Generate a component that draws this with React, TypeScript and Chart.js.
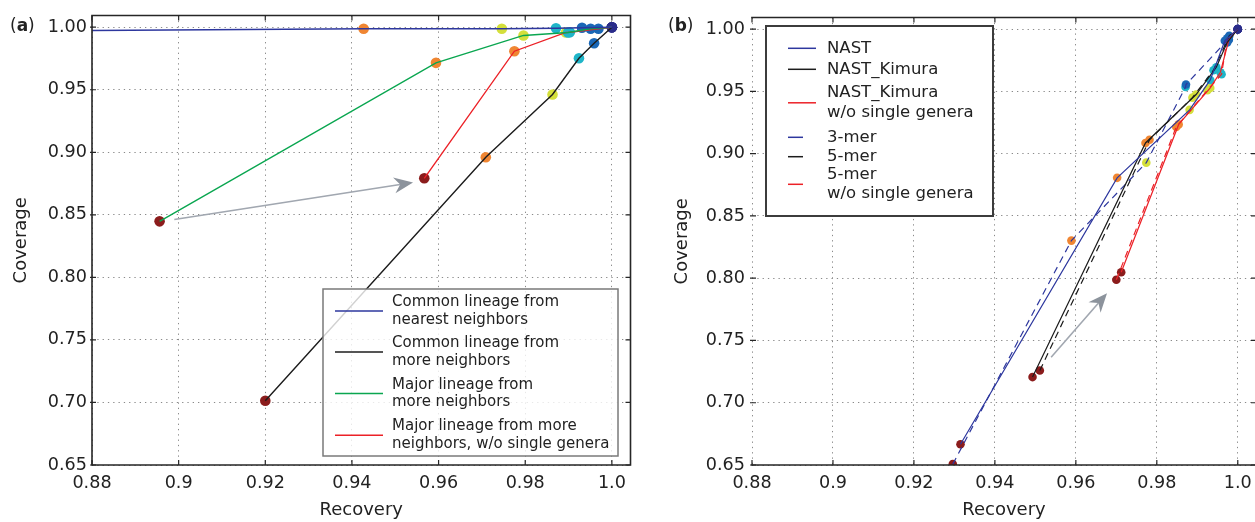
import { useEffect, useRef } from 'react';
import { Chart, registerables } from 'chart.js';

Chart.register(...registerables);

// Shared axis ticks
const recoveryTicks = [0.88, 0.9, 0.92, 0.94, 0.96, 0.98, 1.0];
const recoveryTickLabels = ['0.88', '0.9', '0.92', '0.94', '0.96', '0.98', '1.0'];
const coverageTicks = [0.65, 0.7, 0.75, 0.8, 0.85, 0.9, 0.95, 1.0];
const coverageTickLabels = ['0.65', '0.70', '0.75', '0.80', '0.85', '0.90', '0.95', '1.00'];

// Colour of each successive point along a curve
const stepColors = ['#8b1c1c', '#f08632', '#d4df3b', '#1fb5c8', '#1a67b6', '#2a2c8a'];

// Panel (a)
const nearestRecovery = [0.87, 0.9427, 0.9746, 0.9871, 0.9931, 1.0];
const nearestCoverage = [0.9971, 0.9987, 0.9987, 0.9992, 0.9995, 1.0];
const commonRecovery = [0.92, 0.9709, 0.9863, 0.9924, 0.9959, 1.0];
const commonCoverage = [0.7014, 0.896, 0.9462, 0.9752, 0.9872, 1.0];
const majorRecovery = [0.8956, 0.9594, 0.9796, 0.9899, 0.9951, 1.0];
const majorCoverage = [0.8448, 0.9715, 0.9934, 0.9958, 0.9987, 1.0];
const majorNoSingleRecovery = [0.9567, 0.9775, 0.9894, 0.9903, 0.9969, 1.0];
const majorNoSingleCoverage = [0.8792, 0.9808, 0.9958, 0.996, 0.9987, 1.0];
const legendALabels = [
  'Common lineage from\nnearest neighbors',
  'Common lineage from\nmore neighbors',
  'Major lineage from\nmore neighbors',
  'Major lineage from more\nneighbors, w/o single genera',
];
const arrowAFrom = [0.899, 0.8462];
const arrowATo = [0.9541, 0.8758];

// Panel (b)
const nastRecovery = [0.9315, 0.9702, 0.9881, 0.9932, 0.9968, 1.0];
const nastCoverage = [0.6667, 0.8806, 0.9352, 0.9592, 0.9907, 1.0];
const kimuraRecovery = [0.9493, 0.9772, 0.9897, 0.9947, 0.9974, 1.0];
const kimuraCoverage = [0.7206, 0.9086, 0.9475, 0.9694, 0.9894, 1.0];
const kimuraNoSingleRecovery = [0.9712, 0.9854, 0.9932, 0.9957, 0.9978, 1.0];
const kimuraNoSingleCoverage = [0.8048, 0.9235, 0.9528, 0.9654, 0.9915, 1.0];
const mer3Recovery = [0.9296, 0.9589, 0.9774, 0.9871, 0.9872, 1.0];
const mer3Coverage = [0.6507, 0.8302, 0.8928, 0.9535, 0.9555, 1.0];
const mer5Recovery = [0.9511, 0.9782, 0.9888, 0.994, 0.9979, 1.0];
const mer5Coverage = [0.7259, 0.9112, 0.945, 0.967, 0.9947, 1.0];
const mer5NoSingleRecovery = [0.97, 0.9848, 0.9925, 0.996, 0.9974, 1.0];
const mer5NoSingleCoverage = [0.7987, 0.9214, 0.951, 0.9638, 0.9926, 1.0];
const legendBLabels = [
  'NAST',
  'NAST_Kimura',
  'NAST_Kimura\nw/o single genera',
  '3-mer',
  '5-mer',
  '5-mer\nw/o single genera',
];
const arrowBFrom = [0.9539, 0.7366];
const arrowBTo = [0.9677, 0.788];

const FONT = "'DejaVu Sans', 'Bitstream Vera Sans', sans-serif";
const INK = '#222222';
const GRID = '#8a8a8a';
const BLUE = '#2d379e';
const BLACK = '#1c1c1c';
const GREEN = '#0aa650';
const RED = '#ec2127';
const DASH = [7, 5];

type Series = { rec: number[]; cov: number[]; color: string; dash?: number[]; width: number };

type LegendSpec = {
  x: number;
  y: number;
  w: number;
  h: number;
  rows: number[];
  lineHeight: number;
  handleX: number;
  handleLen: number;
  dashLen: number;
  textX: number;
  fontSize: number;
  fill: string;
  border: string;
  borderWidth: number;
};

type PanelSpec = {
  letter: string;
  letterX: number;
  series: Series[];
  legendLabels: string[];
  legend: LegendSpec;
  radius: number;
  xMax: number;
  yMax: number;
  axisWidth: number;
  padRight: number;
  titlePad: number;
  tickPad: number;
  leftSpine: boolean;
  arrowFrom: number[];
  arrowTo: number[];
};

const panelA: PanelSpec = {
  letter: 'a',
  letterX: 10,
  series: [
    { rec: nearestRecovery, cov: nearestCoverage, color: BLUE, width: 1.4 },
    { rec: commonRecovery, cov: commonCoverage, color: BLACK, width: 1.4 },
    { rec: majorRecovery, cov: majorCoverage, color: GREEN, width: 1.4 },
    { rec: majorNoSingleRecovery, cov: majorNoSingleCoverage, color: RED, width: 1.4 },
  ],
  legendLabels: legendALabels,
  legend: {
    x: 323, y: 289, w: 295, h: 167,
    rows: [22, 63, 104.6, 146.2],
    lineHeight: 17.5,
    handleX: 12, handleLen: 48, dashLen: 48, textX: 69,
    fontSize: 15,
    fill: 'rgba(255,255,255,0.8)', border: '#7a7a7a', borderWidth: 1.5,
  },
  radius: 5.3,
  xMax: 1.0043,
  yMax: 1.0093,
  axisWidth: 92,
  padRight: 9.5,
  titlePad: 10.9,
  tickPad: 5,
  leftSpine: true,
  arrowFrom: arrowAFrom,
  arrowTo: arrowATo,
};

const panelB: PanelSpec = {
  letter: 'b',
  letterX: 28,
  series: [
    { rec: nastRecovery, cov: nastCoverage, color: BLUE, width: 1.2 },
    { rec: kimuraRecovery, cov: kimuraCoverage, color: BLACK, width: 1.2 },
    { rec: kimuraNoSingleRecovery, cov: kimuraNoSingleCoverage, color: RED, width: 1.2 },
    { rec: mer3Recovery, cov: mer3Coverage, color: BLUE, dash: DASH, width: 1.2 },
    { rec: mer5Recovery, cov: mer5Coverage, color: BLACK, dash: DASH, width: 1.2 },
    { rec: mer5NoSingleRecovery, cov: mer5NoSingleCoverage, color: RED, dash: DASH, width: 1.2 },
  ],
  legendLabels: legendBLabels,
  legend: {
    x: 126, y: 26, w: 227, h: 190,
    rows: [22.3, 43.3, 76.8, 111.3, 130.7, 158.3],
    lineHeight: 19.7,
    handleX: 22, handleLen: 28, dashLen: 15, textX: 61,
    fontSize: 16.5,
    fill: '#ffffff', border: '#3c3c3c', borderWidth: 2,
  },
  radius: 4.3,
  xMax: 1.0045,
  yMax: 1.0093,
  axisWidth: 112,
  padRight: 24,
  titlePad: 31.9,
  tickPad: 7,
  leftSpine: false,
  arrowFrom: arrowBFrom,
  arrowTo: arrowBTo,
};

function buildDatasets(series: Series[], radius: number) {
  const dots = series.map((s) => ({
    data: s.rec.map((x, i) => ({ x, y: s.cov[i] })),
    showLine: false,
    pointRadius: radius,
    pointHoverRadius: radius,
    pointBackgroundColor: stepColors,
    pointBorderColor: 'rgba(0,0,0,0)',
    pointBorderWidth: 0,
    order: 1,
  }));
  const lines = series.map((s) => ({
    data: s.rec.map((x, i) => ({ x, y: s.cov[i] })),
    showLine: true,
    borderColor: s.color,
    borderWidth: s.width,
    borderDash: s.dash || [],
    pointRadius: 0,
    pointHoverRadius: 0,
    fill: false,
    tension: 0,
    order: 0,
  }));
  return [...dots, ...lines];
}

function drawArrow(ctx: CanvasRenderingContext2D, x0: number, y0: number, x1: number, y1: number) {
  const ang = Math.atan2(y1 - y0, x1 - x0);
  const c = Math.cos(ang);
  const s = Math.sin(ang);
  const headLen = 19;
  const headHalf = 8;
  const notch = 13;
  ctx.save();
  ctx.strokeStyle = '#a1a7b0';
  ctx.lineWidth = 1.6;
  ctx.beginPath();
  ctx.moveTo(x0, y0);
  ctx.lineTo(x1 - notch * c, y1 - notch * s);
  ctx.stroke();
  ctx.fillStyle = '#8c939c';
  ctx.beginPath();
  ctx.moveTo(x1, y1);
  ctx.lineTo(x1 - headLen * c - headHalf * s, y1 - headLen * s + headHalf * c);
  ctx.lineTo(x1 - notch * c, y1 - notch * s);
  ctx.lineTo(x1 - headLen * c + headHalf * s, y1 - headLen * s - headHalf * c);
  ctx.closePath();
  ctx.fill();
  ctx.restore();
}

function decor(spec: PanelSpec) {
  return {
    id: 'decor' + spec.letter,
    afterDatasetsDraw(chart: any) {
      const { ctx, chartArea } = chart;
      const { left, right, top, bottom } = chartArea;
      const xs = chart.scales.x;
      const ys = chart.scales.y;
      drawArrow(
        ctx,
        xs.getPixelForValue(spec.arrowFrom[0]),
        ys.getPixelForValue(spec.arrowFrom[1]),
        xs.getPixelForValue(spec.arrowTo[0]),
        ys.getPixelForValue(spec.arrowTo[1]),
      );
      ctx.save();
      ctx.strokeStyle = '#262626';
      ctx.lineWidth = 1.6;
      ctx.beginPath();
      ctx.moveTo(left - 0.8, top);
      ctx.lineTo(right, top);
      ctx.lineTo(right, bottom);
      ctx.lineTo(left - 0.8, bottom);
      if (spec.leftSpine) {
        ctx.moveTo(left, bottom);
        ctx.lineTo(left, top);
      }
      ctx.stroke();
      ctx.lineWidth = 1.2;
      ctx.beginPath();
      recoveryTicks.forEach((v) => {
        const px = xs.getPixelForValue(v);
        ctx.moveTo(px, bottom);
        ctx.lineTo(px, bottom - 5);
        ctx.moveTo(px, top);
        ctx.lineTo(px, top + 5);
      });
      coverageTicks.forEach((v) => {
        const py = ys.getPixelForValue(v);
        ctx.moveTo(left - 2, py);
        ctx.lineTo(left + 4, py);
        ctx.moveTo(right, py);
        ctx.lineTo(right - 5, py);
      });
      ctx.stroke();
      ctx.restore();
    },
    afterDraw(chart: any) {
      const { ctx } = chart;
      const lg = spec.legend;
      ctx.save();
      ctx.fillStyle = lg.fill;
      ctx.fillRect(lg.x, lg.y, lg.w, lg.h);
      ctx.strokeStyle = lg.border;
      ctx.lineWidth = lg.borderWidth;
      ctx.strokeRect(lg.x, lg.y, lg.w, lg.h);
      ctx.font = `${lg.fontSize}px ${FONT}`;
      ctx.textBaseline = 'middle';
      ctx.textAlign = 'left';
      spec.legendLabels.forEach((label, i) => {
        const s = spec.series[i];
        const cy = lg.y + lg.rows[i];
        ctx.strokeStyle = s.color;
        ctx.lineWidth = 1.5;
        ctx.beginPath();
        ctx.moveTo(lg.x + lg.handleX, cy);
        ctx.lineTo(lg.x + lg.handleX + (s.dash ? lg.dashLen : lg.handleLen), cy);
        ctx.stroke();
        ctx.fillStyle = INK;
        const rows = label.split('\n');
        rows.forEach((row, j) => {
          ctx.fillText(row, lg.x + lg.textX, cy + (j - (rows.length - 1) / 2) * lg.lineHeight);
        });
      });
      // panel letter, e.g. "(a)"
      const cy = 26.5;
      let x = spec.letterX;
      ctx.fillStyle = INK;
      ctx.font = `17px ${FONT}`;
      ctx.fillText('(', x, cy);
      x += ctx.measureText('(').width;
      ctx.font = `bold 17px ${FONT}`;
      ctx.fillText(spec.letter, x, cy);
      x += ctx.measureText(spec.letter).width;
      ctx.font = `17px ${FONT}`;
      ctx.fillText(')', x, cy);
      ctx.restore();
    },
  };
}

function makeConfig(spec: PanelSpec): any {
  const tickFont = { family: FONT, size: 17.6 };
  const titleFont = { family: FONT, size: 18 };
  return {
    type: 'scatter',
    data: { datasets: buildDatasets(spec.series, spec.radius) },
    options: {
      animation: false,
      responsive: false,
      maintainAspectRatio: false,
      events: [],
      layout: { padding: { left: 0, right: spec.padRight, top: 15, bottom: 0 } },
      plugins: { legend: { display: false }, tooltip: { enabled: false } },
      scales: {
        x: {
          type: 'linear',
          bounds: 'data',
          min: 0.88,
          max: spec.xMax,
          afterBuildTicks: (s: any) => {
            s.ticks = recoveryTicks.map((value) => ({ value }));
          },
          afterFit: (s: any) => {
            s.height = 57;
          },
          ticks: {
            autoSkip: false,
            maxRotation: 0,
            minRotation: 0,
            padding: 8,
            color: INK,
            font: tickFont,
            callback: (_v: number, i: number) => recoveryTickLabels[i],
          },
          grid: { color: GRID, lineWidth: 1, drawTicks: false },
          border: { display: false, dash: [1.3, 4] },
          title: { display: true, text: 'Recovery', color: INK, font: titleFont, padding: { top: 0, bottom: 1 } },
        },
        y: {
          type: 'linear',
          bounds: 'data',
          min: 0.65,
          max: spec.yMax,
          afterBuildTicks: (s: any) => {
            s.ticks = coverageTicks.map((value) => ({ value }));
          },
          afterFit: (s: any) => {
            s.width = spec.axisWidth;
          },
          ticks: {
            autoSkip: false,
            padding: spec.tickPad,
            color: INK,
            font: tickFont,
            callback: (_v: number, i: number) => coverageTickLabels[i],
          },
          grid: { color: GRID, lineWidth: 1, drawTicks: false },
          border: { display: false, dash: [1.3, 4] },
          title: { display: true, text: 'Coverage', color: INK, font: titleFont, padding: { top: spec.titlePad, bottom: 0 } },
        },
      },
    },
    plugins: [decor(spec)],
  };
}

function Panel({ spec, left, width }: { spec: PanelSpec; left: number; width: number }) {
  const ref = useRef<HTMLCanvasElement>(null);
  useEffect(() => {
    if (!ref.current) return;
    const chart = new Chart(ref.current, makeConfig(spec));
    return () => chart.destroy();
  }, [spec]);
  return (
    <canvas
      ref={ref}
      width={width}
      height={522}
      style={{ position: 'absolute', left, top: 0, width, height: 522 }}
    />
  );
}

export default function App() {
  return (
    <div
      style={{
        position: 'absolute',
        left: 0,
        top: 0,
        width: 1255,
        height: 522,
        overflow: 'hidden',
        background: '#ffffff',
      }}
    >
      <Panel spec={panelA} left={0} width={640} />
      <Panel spec={panelB} left={640} width={640} />
    </div>
  );
}
